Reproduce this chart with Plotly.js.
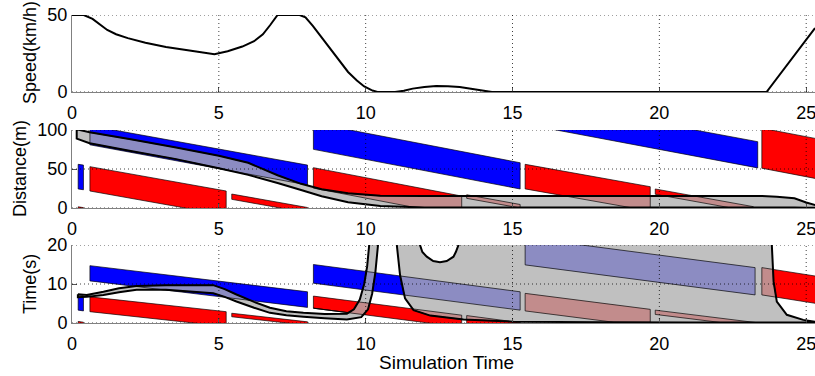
<!DOCTYPE html>
<html><head><meta charset="utf-8">
<script src="https://cdn.plot.ly/plotly-3.0.1.min.js"></script>
<style>html,body{margin:0;padding:0;background:#fff}#chart{width:815px;height:376px}</style>
</head><body><div id="chart"></div>
<script>
// ---------------- DATA ----------------
const xTicks = [0, 5, 10, 15, 20, 25];
const speedTicks = [0, 50];
const distTicks = [0, 50, 100];
const timeTicks = [0, 10, 20];

// Speed (km/h) vs simulation time
const speedT   = [0, 0.4, 0.7, 1.0, 1.2, 1.5, 1.9, 2.5, 3.2, 4.0, 4.85, 5.3, 5.8, 6.2, 6.5, 6.75, 7.0, 7.75, 7.95, 8.2, 8.5, 8.8, 9.1, 9.4, 9.7, 9.95, 10.2, 10.4, 11.0, 11.3, 11.6, 12.0, 12.4, 12.8, 13.2, 13.6, 14.0, 14.3, 23.65, 25.3];
const speedKmh = [50, 50, 47.5, 43.5, 40.3, 37.5, 35, 32, 29.2, 27, 24.5, 26.5, 29.5, 33, 37.5, 43.5, 50, 50, 48.5, 43, 35.5, 27.3, 19.8, 13, 7.5, 3.6, 1.2, 0, 0, 0.8, 2.2, 3.3, 3.9, 3.8, 3.2, 2.2, 1.0, 0, 0, 41.5];

// Distance panel: signal windows (t0, t1, top at t0/t1, bottom at t0/t1)
const distWinKind = ['blue', 'red', 'blue', 'red', 'red', 'blue', 'red', 'red', 'red', 'blue', 'red', 'red'];
const distWinT0   = [0.21, 0.21, 0.61, 0.61, 5.44, 8.22, 8.22, 13.44, 15.43, 15.5, 19.86, 23.49];
const distWinT1   = [0.39, 0.39, 8.02, 5.25, 8.02, 15.26, 13.27, 15.26, 19.69, 23.35, 23.2, 25.6];
const distWinTop0 = [56, 1.5, 105.5, 53, 17.9, 109, 51.7, 17, 56, 140, 24.4, 102.3];
const distWinTop1 = [55, 0.5, 55, 21.8, 0.6, 58, 15.3, 4.5, 27.3, 85, 1.7, 87.1];
const distWinBot0 = [24.4, -20, 81, 21.8, 11.1, 75.2, 25.5, 12.4, 24.5, 107, 17.6, 51];
const distWinBot1 = [23.4, -21, 29.5, -9.4, -6.2, 24.4, -10.9, 0, -4, 51.4, -5.1, 35.8];

// Distance panel: feasible band (upper / lower bound)
const distBandT     = [0.16, 0.6, 2, 3.5, 5, 6, 7, 7.8, 8.5, 9.4, 10.5, 12, 23.5, 24, 24.6, 25.0, 25.6];
const distBandUpper = [101, 97, 88, 78, 67, 58, 42, 31, 24, 18.8, 15.6, 15.4, 15.4, 14.5, 12.4, 7, 0.8];
const distBandLower = [89, 83, 73, 63, 51, 42.5, 32, 23, 15, 7.3, 2.6, 0.6, 0.5, 0.5, 0.5, 0.4, 0.3];

// Time panel: signal windows
const timeWinKind = ['blue', 'red', 'blue', 'red', 'red', 'blue', 'red', 'red', 'blue', 'red', 'red', 'red'];
const timeWinT0   = [0.21, 0.21, 0.61, 0.61, 5.44, 8.22, 8.22, 13.44, 15.43, 15.43, 19.86, 23.49];
const timeWinT1   = [0.39, 0.39, 8.02, 5.25, 8.02, 15.26, 13.27, 15.26, 23.26, 19.69, 23.3, 25.6];
const timeWinTop0 = [7.2, 0.4, 14.7, 6.7, 2.5, 15.0, 6.9, 1.9, 21.9, 7.6, 3.3, 14.2];
const timeWinTop1 = [7.0, 0.2, 8.0, 2.9, 0.3, 8.0, 2.0, 0.1, 14.2, 3.5, 0.1, 11.7];
const timeWinBot0 = [3.3, -3, 10.8, 2.9, 1.6, 10.2, 3.8, -1, 14.9, 3.1, 2.2, 7.2];
const timeWinBot1 = [3.1, -3, 4.0, -0.9, -0.6, 3.3, -1.1, -3, 7.2, -1, -1, 4.7];

// Time panel: first band (upper / lower bound)
const timeBandUpT = [0.2, 0.5, 1.07, 1.6, 2.2, 3.2, 4.81, 5.2, 5.6, 6.2, 6.74, 7.3, 7.88, 8.6, 9.36, 9.6, 9.8, 9.95, 10.05, 10.12, 10.16];
const timeBandUp  = [7.4, 7.2, 8.0, 8.9, 9.5, 9.7, 9.7, 8.7, 7.3, 5.4, 3.9, 3.0, 2.6, 2.3, 2.4, 3.5, 6, 10, 14.5, 20, 25];
const timeBandLoT = [0.2, 0.5, 1.07, 1.6, 2.2, 3.2, 4.81, 5.2, 5.6, 6.2, 6.74, 7.3, 7.88, 8.6, 9.36, 9.85, 10.08, 10.22, 10.33, 10.42, 10.46];
const timeBandLo  = [6.6, 6.7, 7.2, 7.9, 8.5, 8.5, 7.6, 6.7, 5.5, 3.9, 2.6, 2.0, 1.6, 1.2, 0.9, 1.5, 3.5, 7.5, 13, 20, 25];
// Time panel: second (large) region boundaries
const timeRegLeftT  = [11.02, 11.06, 11.17, 11.34, 11.63, 12.2, 13.33, 15.03, 18, 21, 24.6];
const timeRegLeft   = [25, 20, 12.3, 6.3, 3.3, 1.9, 0.9, 0.35, 0.2, 0.15, 0.12];
const timeRegRightT = [25.6, 25.3, 24.9, 24.34, 24.0, 23.89, 23.83, 23.81];
const timeRegRight  = [0.15, 0.33, 0.8, 2.1, 5.5, 10.6, 20, 25];
const timeRegNotchT = [13.2, 13.16, 13.07, 12.99, 12.76, 12.53, 12.3, 12.08, 11.93, 11.85, 11.83];
const timeRegNotch  = [25, 20, 18.2, 17, 15.9, 15.6, 15.9, 17, 18.2, 20, 25];

// ---------------- STYLE ----------------
const BLUE = '#0000ff', RED = '#ff0000', GRAY = '#c0c0c0', LAV = '#8c8cc2', MAUVE = '#c28c8c';
const EDGE = 'rgba(0,0,0,0.85)';
const FONT = 'Liberation Sans, Arial, Helvetica, sans-serif';

const zip = (a, b) => a.map((v, i) => [v, b[i]]);

function windows(kind, t0, t1, a0, a1, b0, b1) {
  return kind.map((k, i) => ({ kind: k, pts: [[t0[i], a0[i]], [t1[i], a1[i]], [t1[i], b1[i]], [t0[i], b0[i]]] }));
}

function clipPoly(subject, clip) {
  let area = 0;
  for (let i = 0; i < clip.length; i++) { const p = clip[i], q = clip[(i + 1) % clip.length]; area += p[0] * q[1] - q[0] * p[1]; }
  const s = area > 0 ? 1 : -1;
  let out = subject.slice();
  for (let i = 0; i < clip.length && out.length; i++) {
    const A = clip[i], B = clip[(i + 1) % clip.length];
    const side = P => s * ((B[0] - A[0]) * (P[1] - A[1]) - (B[1] - A[1]) * (P[0] - A[0]));
    const inp = out; out = [];
    for (let j = 0; j < inp.length; j++) {
      const P = inp[j], Q = inp[(j + 1) % inp.length];
      const sp = side(P), sq = side(Q);
      if (sp >= 0) out.push(P);
      if ((sp >= 0) !== (sq >= 0)) { const r = sp / (sp - sq); out.push([P[0] + r * (Q[0] - P[0]), P[1] + r * (Q[1] - P[1])]); }
    }
  }
  return out;
}

function polyTrace(pts, xa, ya, fill, lineColor, lineWidth) {
  const x = pts.map(p => p[0]).concat([pts[0][0]]);
  const y = pts.map(p => p[1]).concat([pts[0][1]]);
  return {
    type: 'scatter', x, y, xaxis: xa, yaxis: ya,
    mode: lineWidth > 0 ? 'lines' : 'none',
    fill: fill ? 'toself' : 'none', fillcolor: fill || undefined,
    line: { color: lineColor || '#000', width: lineWidth, simplify: false },
    hoverinfo: 'skip', showlegend: false
  };
}

function buildPanel(xa, ya, wins, grays) {
  const tr = [];
  wins.forEach(w => tr.push(polyTrace(w.pts, xa, ya, w.kind === 'blue' ? BLUE : RED, EDGE, 0.8)));
  grays.forEach(g => tr.push(polyTrace(g, xa, ya, GRAY, null, 0)));
  wins.forEach(w => grays.forEach(g => {
    const c = clipPoly(g, w.pts);
    if (c.length > 2) tr.push(polyTrace(c, xa, ya, w.kind === 'blue' ? LAV : MAUVE, EDGE, 0.8));
  }));
  grays.forEach(g => tr.push(polyTrace(g, xa, ya, null, '#000', 2)));
  return tr;
}

const distBandPoly = zip(distBandT, distBandUpper).concat(zip(distBandT, distBandLower).reverse());
const timeBandPoly = zip(timeBandUpT, timeBandUp).concat(zip(timeBandLoT, timeBandLo).reverse());
const timeRegPoly = zip(timeRegLeftT, timeRegLeft).concat(zip(timeRegRightT, timeRegRight)).concat(zip(timeRegNotchT, timeRegNotch));

const traces = [];
traces.push({ type: 'scatter', mode: 'lines', x: speedT, y: speedKmh, xaxis: 'x', yaxis: 'y',
  line: { color: '#000', width: 2 }, hoverinfo: 'skip', showlegend: false });
buildPanel('x2', 'y2', windows(distWinKind, distWinT0, distWinT1, distWinTop0, distWinTop1, distWinBot0, distWinBot1), [distBandPoly]).forEach(t => traces.push(t));
buildPanel('x3', 'y3', windows(timeWinKind, timeWinT0, timeWinT1, timeWinTop0, timeWinTop1, timeWinBot0, timeWinBot1), [timeBandPoly, timeRegPoly]).forEach(t => traces.push(t));

// ---------------- LAYOUT ----------------
const H = 376, PLOTW = 743;
const dom = (topPx, botPx) => [1 - botPx / H, 1 - topPx / H];
const domTop = dom(15, 92), domMid = dom(130, 208), domBot = dom(245, 323);

function xax(anchor) {
  return { domain: [0, 1], anchor, range: [0, 25.3], tickvals: xTicks, showgrid: false, zeroline: false,
    showline: true, linecolor: '#808080', linewidth: 1, ticks: 'inside', ticklen: 5, tickcolor: '#555',
    ticklabelstandoff: 4, ticklabeloverflow: 'allow',
    tickfont: { family: FONT, size: 18, color: '#000' }, layer: 'above traces', fixedrange: true };
}
function yax(anchor, domain, range, ticks) {
  return { domain, anchor, range, tickvals: ticks, showgrid: false, zeroline: false,
    showline: true, linecolor: '#808080', linewidth: 1, ticks: 'inside', ticklen: 5, tickcolor: '#555',
    ticklabeloverflow: 'allow',
    tickfont: { family: FONT, size: 18, color: '#000' }, layer: 'above traces', fixedrange: true };
}

const shapes = [];
const grid = { color: 'rgba(0,0,0,0.75)', width: 1, dash: '1px,3px' };
[['x', 'y', speedTicks], ['x2', 'y2', distTicks], ['x3', 'y3', timeTicks]].forEach(([xa, ya, yt]) => {
  xTicks.filter(v => v > 0).forEach(v => shapes.push({ type: 'line', xref: xa, yref: ya + ' domain', x0: v, x1: v, y0: 0, y1: 1, line: grid, layer: 'above' }));
  yt.forEach(v => shapes.push({ type: 'line', xref: xa + ' domain', yref: ya, x0: 0, x1: 1, y0: v, y1: v, line: grid, layer: 'above' }));
});

const ann = (text, xpx, ypx, angle, size) => ({ text, xref: 'paper', yref: 'paper', x: (xpx - 72) / PLOTW, y: 1 - ypx / H,
  xanchor: 'center', yanchor: 'middle', textangle: angle, showarrow: false,
  font: { family: FONT, size: size, color: '#000' } });
const annotations = [
  ann('Speed(km/h)', 30, 53, -90, 18),
  ann('Distance(m)', 20, 169, -90, 18),
  ann('Time(s)', 30, 284, -90, 18),
  ann('Simulation Time', 446, 362, 0, 19)
];

const layout = {
  width: 815, height: 376, margin: { l: 72, r: 0, t: 0, b: 0 },
  paper_bgcolor: '#fff', plot_bgcolor: '#fff', showlegend: false,
  xaxis: xax('y'), xaxis2: xax('y2'), xaxis3: xax('y3'),
  yaxis: yax('x', domTop, [0, 50], speedTicks),
  yaxis2: yax('x2', domMid, [0, 100], distTicks),
  yaxis3: yax('x3', domBot, [0, 20], timeTicks),
  shapes, annotations
};

Plotly.newPlot('chart', traces, layout, { staticPlot: true, displayModeBar: false });
</script>
</body></html>
